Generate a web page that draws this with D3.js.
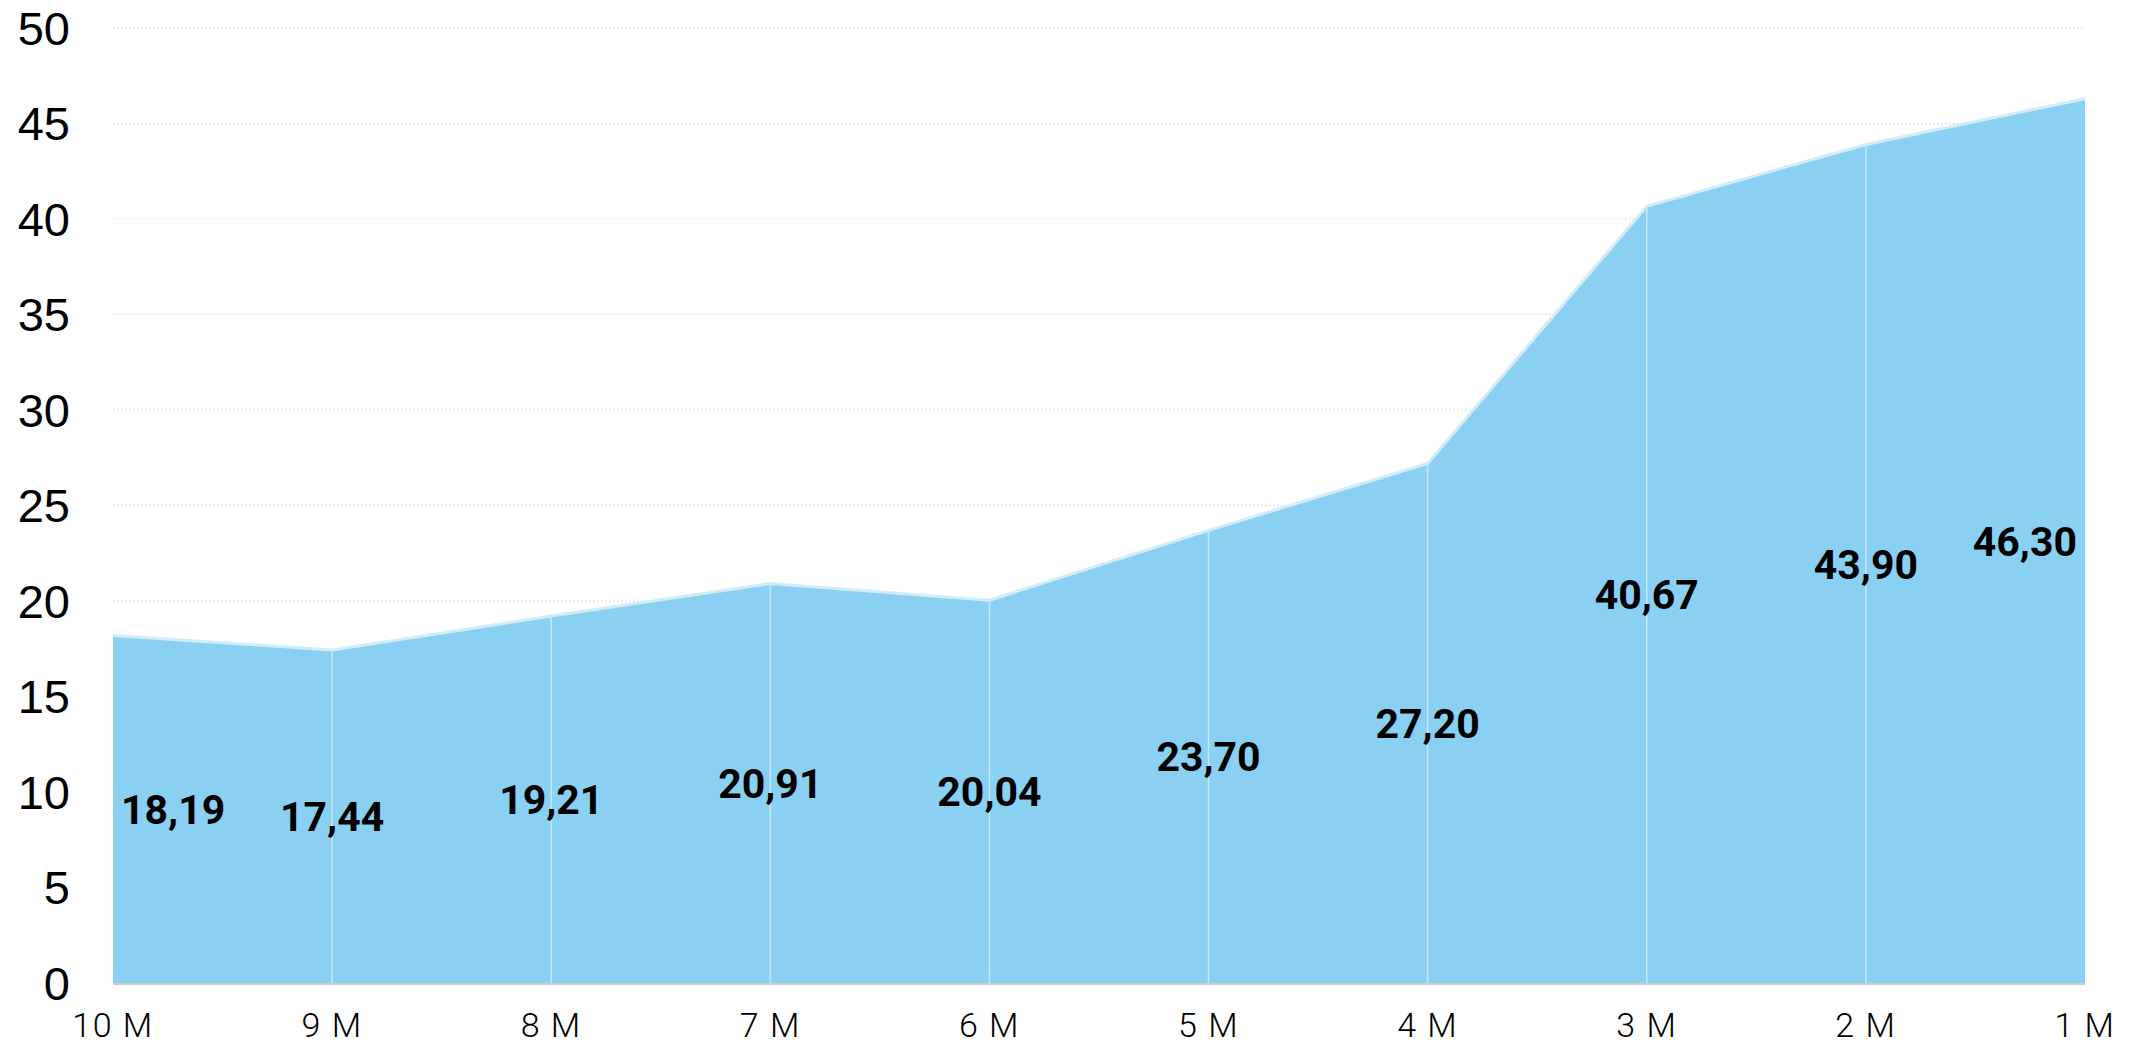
<!DOCTYPE html>
<html>
<head>
<meta charset="utf-8">
<script src="https://cdn.jsdelivr.net/npm/d3@7"></script>
<style>
  html, body { margin: 0; padding: 0; background: #fff; }
  #chart { width: 2136px; height: 1048px; }
</style>
</head>
<body>
<div id="chart"></div>
<script>
// Chart data
const categories = ['10 M', '9 M', '8 M', '7 M', '6 M', '5 M', '4 M', '3 M', '2 M', '1 M'];
const values = [18.19, 17.44, 19.21, 20.91, 20.04, 23.70, 27.20, 40.67, 43.90, 46.30];
const yTicks = [0, 5, 10, 15, 20, 25, 30, 35, 40, 45, 50];

const width = 2136;
const height = 1048;
const margin = {top: 28, right: 51, bottom: 65, left: 113};

const svg = d3.select('#chart')
  .append('svg')
  .attr('width', width)
  .attr('height', height);

// Scales
const x = d3.scalePoint()
  .domain(categories)
  .range([margin.left, width - margin.right]);

const y = d3.scaleLinear()
  .domain([0, 50])
  .range([height - margin.bottom, margin.top]);

const rows = categories.map((c, i) => ({cat: c, value: values[i]}));

// Grid lines (dotted)
svg.append('g')
  .selectAll('line')
  .data(yTicks.filter(t => t > 0))
  .enter()
  .append('line')
  .attr('x1', margin.left)
  .attr('x2', width - margin.right)
  .attr('y1', d => y(d))
  .attr('y2', d => y(d))
  .attr('stroke', '#cfcfcf')
  .attr('stroke-width', 1.2)
  .attr('stroke-dasharray', '1.5,2.5');

// Area
const area = d3.area()
  .x(d => x(d.cat))
  .y0(y(0))
  .y1(d => y(d.value));

svg.append('path')
  .datum(rows)
  .attr('d', area)
  .attr('fill', '#89d0f3');

// Top line
const line = d3.line()
  .x(d => x(d.cat))
  .y(d => y(d.value));

svg.append('path')
  .datum(rows)
  .attr('d', line)
  .attr('fill', 'none')
  .attr('stroke', '#d3ecfa')
  .attr('stroke-width', 3);

// Vertical drop lines
svg.append('g')
  .selectAll('line')
  .data(rows.slice(1, -1))
  .enter()
  .append('line')
  .attr('x1', d => x(d.cat))
  .attr('x2', d => x(d.cat))
  .attr('y1', y(0))
  .attr('y2', d => y(d.value))
  .attr('stroke', '#c8e8f9')
  .attr('stroke-width', 1.5);

// Bottom axis line
svg.append('line')
  .attr('x1', margin.left)
  .attr('x2', width - margin.right)
  .attr('y1', y(0) + 1)
  .attr('y2', y(0) + 1)
  .attr('stroke', '#cccccc')
  .attr('stroke-width', 2);

// Y axis labels
svg.append('g')
  .selectAll('text')
  .data(yTicks)
  .enter()
  .append('text')
  .attr('x', 70)
  .attr('y', d => y(d))
  .attr('dy', '0.36em')
  .attr('text-anchor', 'end')
  .attr('font-family', 'Liberation Sans, Arial, sans-serif')
  .attr('font-size', 47)
  .attr('fill', '#000')
  .text(d => d);

// X axis labels
svg.append('g')
  .selectAll('text')
  .data(categories)
  .enter()
  .append('text')
  .attr('x', d => x(d))
  .attr('y', 1037)
  .attr('text-anchor', 'middle')
  .attr('font-family', 'Roboto, sans-serif')
  .attr('font-weight', 300)
  .attr('font-size', 34)
  .attr('letter-spacing', 1.5)
  .attr('fill', '#000')
  .text(d => d);

// Value labels, centered at half the value
const fmt = d3.format('.2f');
const pad = 8;
svg.append('g')
  .selectAll('text')
  .data(rows)
  .enter()
  .append('text')
  .attr('y', d => y(d.value / 2))
  .attr('dy', '0.36em')
  .attr('text-anchor', 'middle')
  .attr('font-family', 'Roboto, sans-serif')
  .attr('font-weight', 700)
  .attr('font-size', 41)
  .attr('fill', '#000')
  .text(d => fmt(d.value).replace('.', ','))
  .attr('x', function(d) {
    const w = this.getComputedTextLength();
    const lo = margin.left + pad + w / 2;
    const hi = width - margin.right - pad - w / 2;
    return Math.max(lo, Math.min(hi, x(d.cat)));
  });
</script>
</body>
</html>
